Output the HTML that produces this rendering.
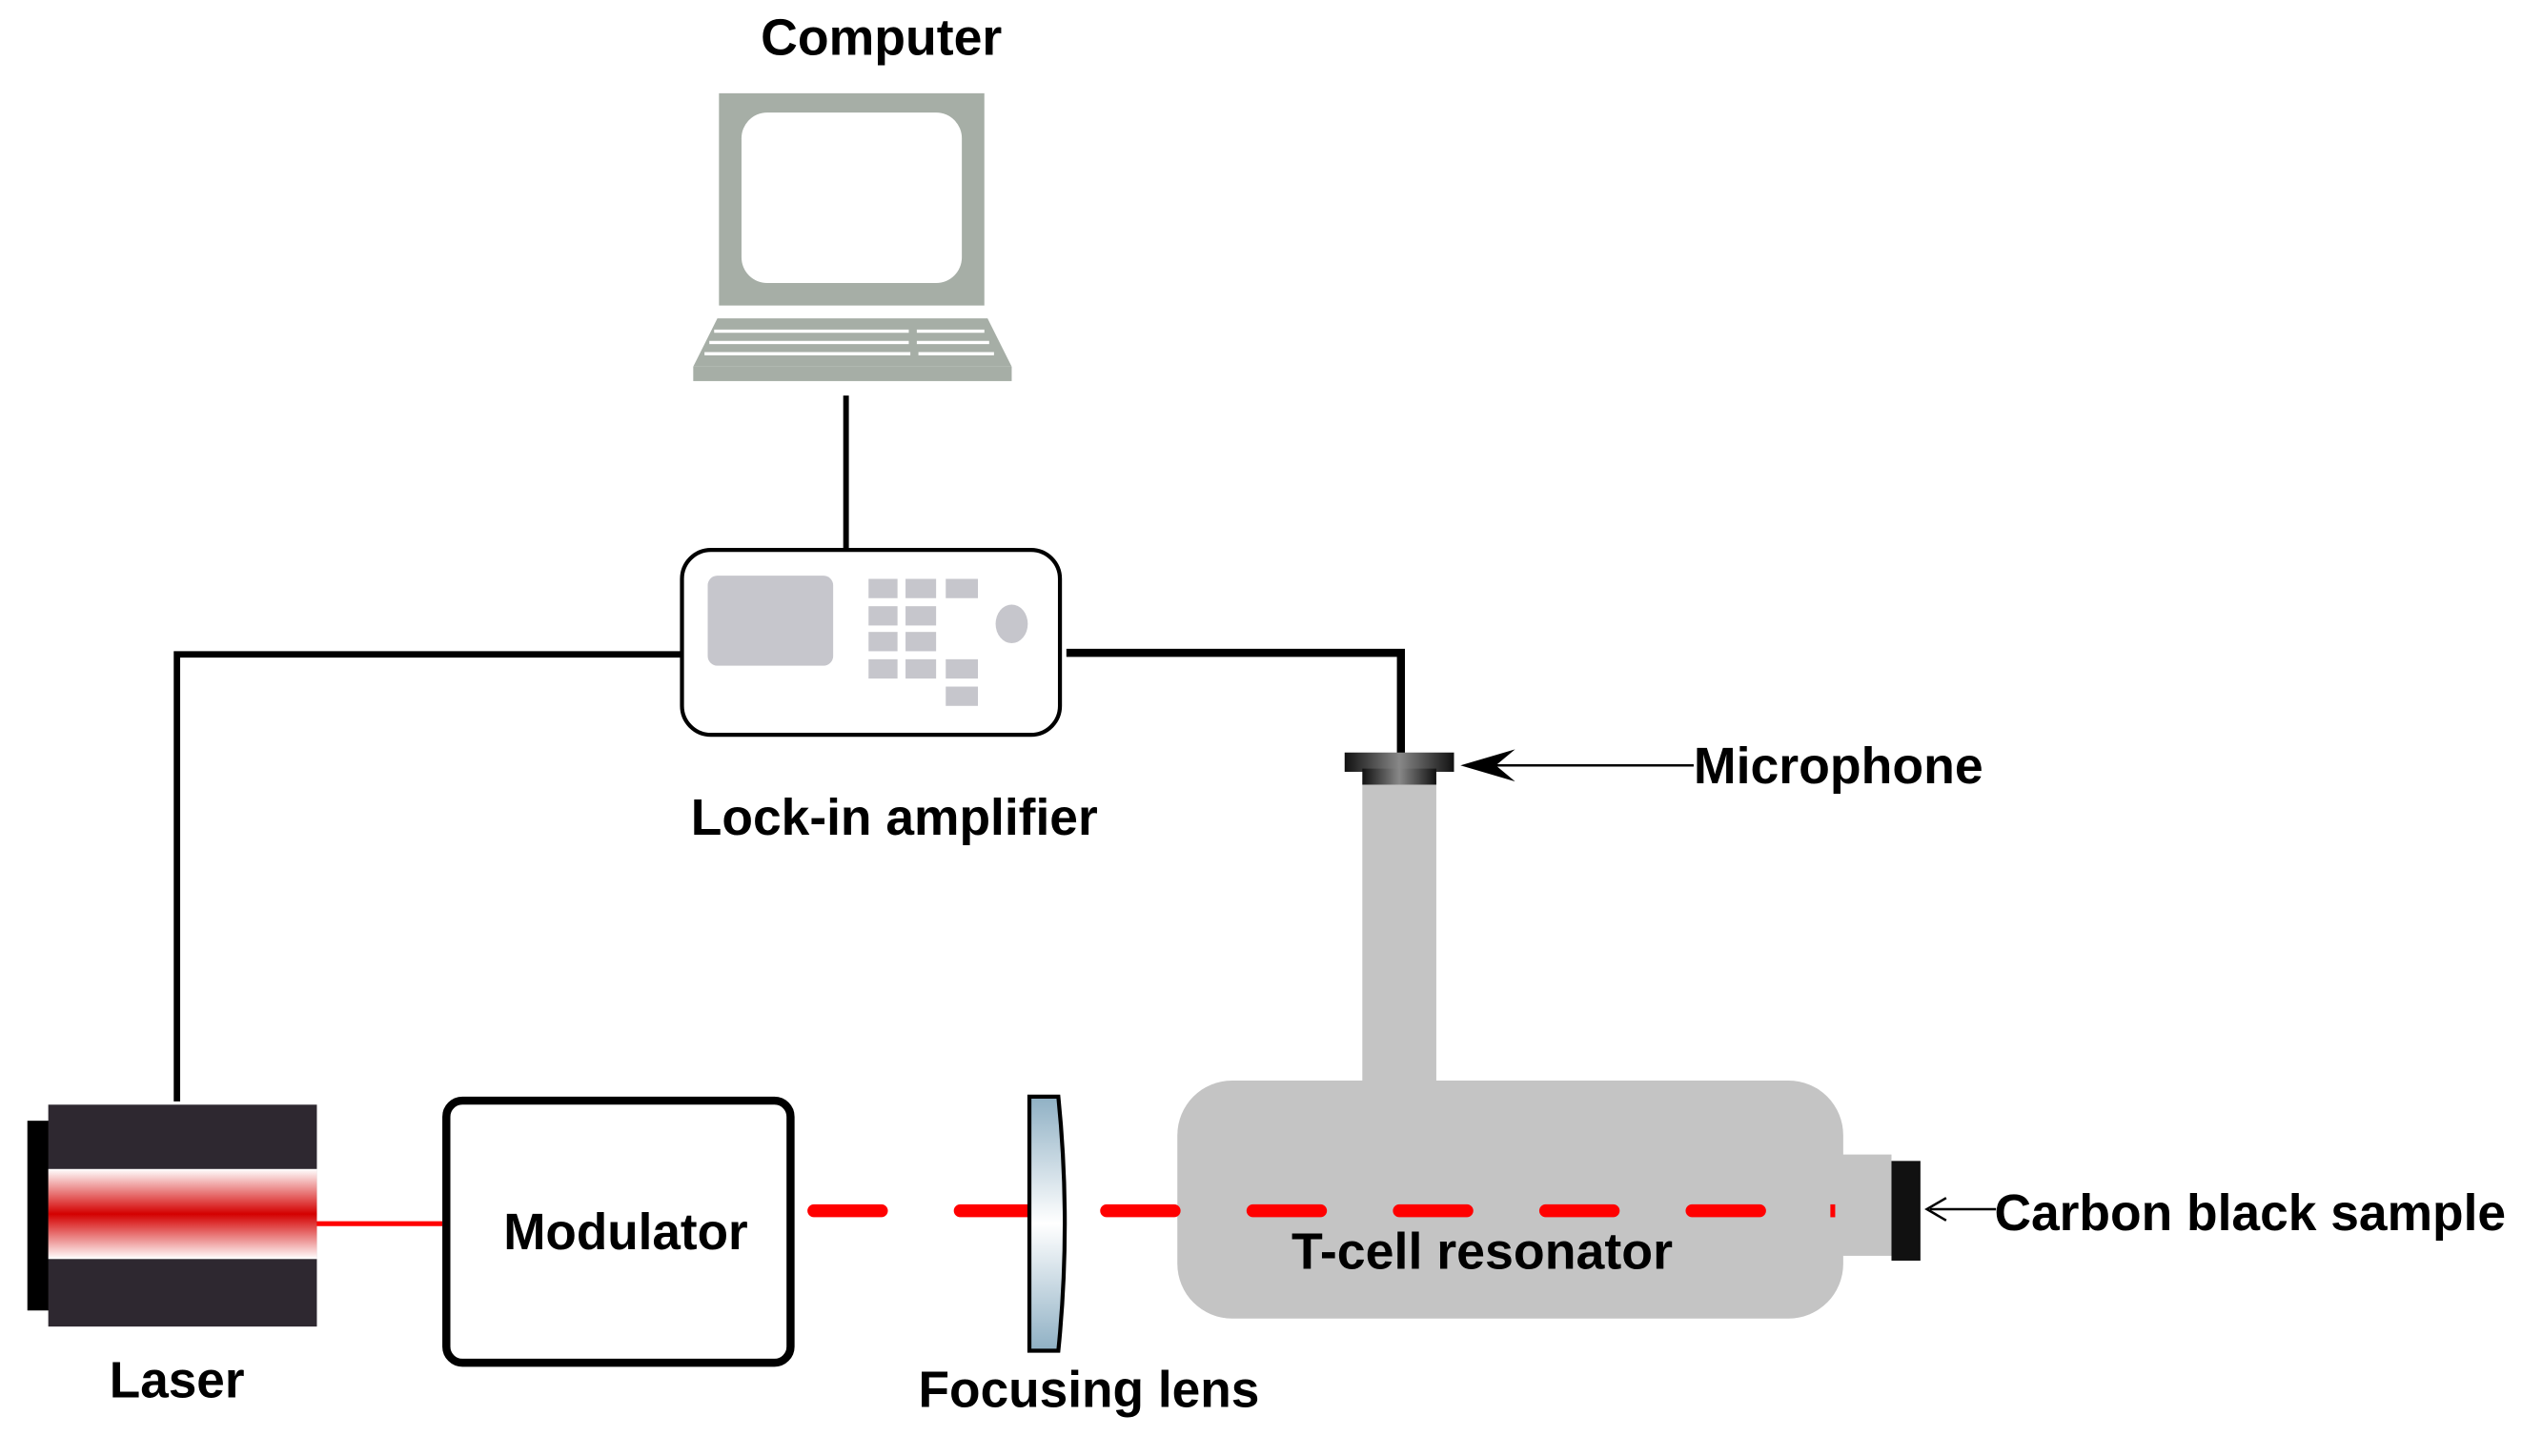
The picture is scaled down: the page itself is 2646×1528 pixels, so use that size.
<!DOCTYPE html>
<html><head><meta charset="utf-8"><style>
html,body{margin:0;padding:0;background:#fff;}
svg{display:block;}
text{font-family:"Liberation Sans",Arial,sans-serif;font-weight:bold;fill:#000;font-size:32px;}
</style></head><body>
<svg width="2646" height="1528" viewBox="0 0 1568 905.5" xmlns="http://www.w3.org/2000/svg">
<defs>
<linearGradient id="red" x1="0" y1="0" x2="0" y2="1">
<stop offset="0" stop-color="#fff"/><stop offset="0.5" stop-color="#d40000"/><stop offset="1" stop-color="#fff"/>
</linearGradient>
<linearGradient id="lens" x1="0" y1="0" x2="0" y2="1">
<stop offset="0" stop-color="#8fb0c4"/><stop offset="0.5" stop-color="#ffffff"/><stop offset="1" stop-color="#8fb0c4"/>
</linearGradient>
<linearGradient id="mic" x1="0" y1="0" x2="1" y2="0">
<stop offset="0" stop-color="#111"/><stop offset="0.5" stop-color="#888"/><stop offset="1" stop-color="#111"/>
</linearGradient>
</defs>

<text x="548" y="34" text-anchor="middle" textLength="150" lengthAdjust="spacingAndGlyphs">Computer</text>
<rect x="447" y="58" width="165" height="132" fill="#a6aea6"/>
<rect x="461" y="70" width="137" height="106" rx="16" fill="#fff"/>
<polygon points="446,198 614,198 629,228 431,228" fill="#a6aea6"/>
<rect x="431" y="228" width="198" height="9" fill="#a6aea6"/>
<g stroke="#fff" stroke-width="2">
<line x1="444" y1="206" x2="565" y2="206"/><line x1="570" y1="206" x2="612" y2="206"/>
<line x1="441" y1="213" x2="565" y2="213"/><line x1="570" y1="213" x2="615" y2="213"/>
<line x1="438" y1="220" x2="566" y2="220"/><line x1="571" y1="220" x2="618" y2="220"/>
</g>
<line x1="526" y1="246" x2="526" y2="342" stroke="#000" stroke-width="3.5"/>

<rect x="424" y="342" width="235" height="115" rx="18" fill="#fff" stroke="#000" stroke-width="2.5"/>
<rect x="440" y="358" width="78" height="56" rx="6" fill="#c6c6cc"/>
<g fill="#c6c6cc">
<rect x="540" y="360" width="18" height="12"/><rect x="563" y="360" width="19" height="12"/><rect x="588" y="360" width="20" height="12"/>
<rect x="540" y="377" width="18" height="12"/><rect x="563" y="377" width="19" height="12"/>
<rect x="540" y="393" width="18" height="12"/><rect x="563" y="393" width="19" height="12"/>
<rect x="540" y="410" width="18" height="12"/><rect x="563" y="410" width="19" height="12"/><rect x="588" y="410" width="20" height="12"/>
<rect x="588" y="427" width="20" height="12"/>
<ellipse cx="629" cy="388" rx="10" ry="12"/>
</g>
<text x="556" y="519" text-anchor="middle" textLength="253" lengthAdjust="spacingAndGlyphs">Lock-in amplifier</text>

<polyline points="424,407 110,407 110,685" fill="none" stroke="#000" stroke-width="4"/>
<polyline points="663,406 871,406 871,470" fill="none" stroke="#000" stroke-width="5"/>

<rect x="847" y="485" width="46" height="200" fill="#c4c4c4"/>
<rect x="732" y="672" width="414" height="148" rx="34" fill="#c4c4c4"/>
<rect x="1140" y="718" width="36" height="63" fill="#c4c4c4"/>
<rect x="1176" y="722" width="18" height="62" fill="#111"/>

<rect x="836" y="468" width="68" height="12" fill="url(#mic)"/>
<rect x="847" y="478" width="46" height="10" fill="url(#mic)"/>
<line x1="916" y1="476" x2="1053" y2="476" stroke="#000" stroke-width="1.5"/>
<polygon points="908,476 942,466 930,476 942,486" fill="#000"/>
<text x="1053" y="487" textLength="180" lengthAdjust="spacingAndGlyphs">Microphone</text>

<line x1="1200" y1="752" x2="1241" y2="752" stroke="#000" stroke-width="1.5"/>
<polyline points="1210,745 1198,752 1210,759" fill="none" stroke="#000" stroke-width="1.5"/>
<text x="1240" y="765" textLength="318" lengthAdjust="spacingAndGlyphs">Carbon black sample</text>
<text x="803" y="789" textLength="237" lengthAdjust="spacingAndGlyphs">T-cell resonator</text>

<rect x="17" y="697" width="14" height="118" fill="#000"/>
<rect x="30" y="687" width="167" height="138" fill="#2e2830"/>
<rect x="30" y="727" width="167" height="56" fill="url(#red)"/>
<line x1="197" y1="761" x2="275" y2="761" stroke="#f00" stroke-width="3"/>
<text x="110" y="869" text-anchor="middle" textLength="84" lengthAdjust="spacingAndGlyphs">Laser</text>

<rect x="277.5" y="684.5" width="214" height="163" rx="10" fill="#fff" stroke="#000" stroke-width="5"/>
<text x="389" y="777" text-anchor="middle" textLength="152" lengthAdjust="spacingAndGlyphs">Modulator</text>

<line x1="506" y1="753" x2="1120" y2="753" stroke="#f00" stroke-width="8" stroke-linecap="round" stroke-dasharray="42 49"/>
<rect x="1138" y="749" width="3" height="8" fill="#f00"/>

<path d="M640,682 L658,682 Q666,761 658,840 L640,840 Z" fill="url(#lens)" stroke="#000" stroke-width="2.5"/>
<text x="677" y="875" text-anchor="middle" textLength="212" lengthAdjust="spacingAndGlyphs">Focusing lens</text>
</svg>
</body></html>
